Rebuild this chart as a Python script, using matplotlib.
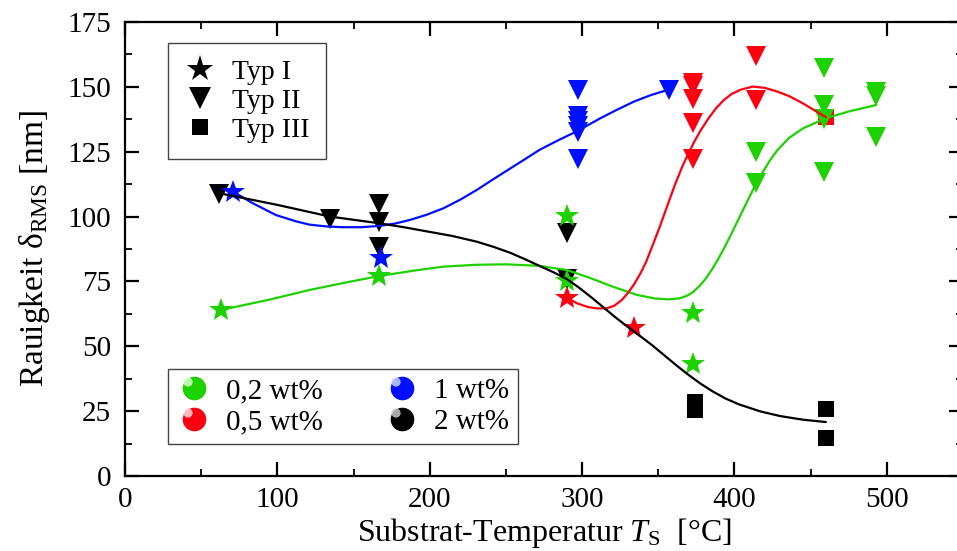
import matplotlib
matplotlib.use("Agg")
import matplotlib.pyplot as plt
from matplotlib.lines import Line2D
from matplotlib.legend_handler import HandlerTuple
from matplotlib.markers import MarkerStyle
from matplotlib.path import Path
from matplotlib.ticker import MultipleLocator

plt.rcParams.update({
    "font.family": "Liberation Serif", "font.size": 21,
    "mathtext.fontset": "custom", "mathtext.rm": "Liberation Serif",
    "mathtext.it": "Liberation Serif:italic",
    "axes.linewidth": 1.6,
    "xtick.direction": "in", "ytick.direction": "in",
    "xtick.top": True, "ytick.right": True,
    "xtick.major.size": 10, "ytick.major.size": 10,
    "xtick.minor.size": 5, "ytick.minor.size": 5,
    "xtick.major.width": 1.6, "ytick.major.width": 1.6,
    "xtick.minor.width": 1.3, "ytick.minor.width": 1.3,
})

GREEN, RED, BLUE, BLACK = "#1ed200", "#ff0010", "#0010ff", "#000000"

# Typ I (stars): substrate temperature [degC], roughness [nm]
star_green_T = [63, 167, 290, 290, 373, 373]
star_green_R = [64, 77, 100.4, 75, 62.7, 43.2]
star_red_T = [290, 334]
star_red_R = [68.7, 56.9]
star_blue_T = [71, 168]
star_blue_R = [109.6, 83.9]

# Typ II (triangles)
tri_green_T = [414, 414, 459, 459, 459, 459, 493, 493, 493]
tri_green_R = [124.9, 113, 157.3, 142.9, 137.5, 117.2, 147.9, 146.6, 130.8]
tri_red_T = [373, 373, 373, 373, 373, 414, 414]
tri_red_R = [151.6, 150.3, 145.2, 136, 122.1, 161.8, 145]
tri_blue_T = [297, 297, 297, 297, 297, 297, 357]
tri_blue_R = [148.6, 138.7, 137, 135, 132.6, 122.3, 148.6]
tri_black_T = [62, 134.5, 167, 167, 167, 290, 290]
tri_black_R = [108.8, 99, 104.9, 97.8, 88.2, 93.7, 76]

# Typ III (squares)
sq_black_T = [374, 374, 460, 460]
sq_black_R = [28.6, 25.4, 25.9, 14.6]
sq_red_T = [460]
sq_red_R = [138.3]

# guide-to-the-eye curves, traced along each concentration
fit_green_T = [63, 95, 121, 145, 167, 190, 209, 230, 250, 272, 290, 305, 320,
               336, 348, 357, 364, 369, 373, 377, 381, 385, 389, 393, 397, 401,
               405, 409, 413, 418, 423, 428, 436, 445, 460, 475, 493]
fit_green_R = [64, 68, 71.7, 74.6, 77.1, 79.2, 80.7, 81.4, 81.6, 81, 79.4, 76.4,
               73, 69.8, 68.4, 68.1, 68.5, 69.5, 71, 73.2, 76, 79.4, 83.3, 87.6,
               92.2, 97, 101.8, 106.6, 111.3, 116.6, 121.4, 125.5, 130.4, 134,
               137.9, 140.5, 143]
fit_red_T = [290, 297, 304, 310, 316, 321, 326, 330, 334, 338, 342, 346, 351,
             356, 361, 366, 370, 374, 378, 383, 388, 393, 398, 404, 412, 420,
             428, 436, 445, 460]
fit_red_R = [68.7, 66.5, 65.1, 64.6, 64.6, 65.6, 67.8, 70.5, 73.8, 77.8, 82.5,
             88.5, 96.1, 104.3, 112.4, 119.6, 124.6, 129.3, 133.4, 137.9, 141.8,
             144.9, 147.2, 148.9, 150.1, 149.6, 148.2, 146.4, 143.6, 138.3]
fit_blue_T = [71, 84, 99, 112, 121, 132, 143, 155, 167, 178, 187, 198, 209, 220,
              231, 242, 253, 263, 272, 285, 297, 312, 323, 334, 345, 356]
fit_blue_R = [109.6, 105.1, 100.6, 98.2, 96.9, 96.2, 95.9, 95.9, 96.4, 97.4, 98.7,
              100.7, 103.2, 106.5, 110.3, 114.5, 118.6, 122.3, 125.7, 129.6, 133,
              137.9, 141.2, 144.3, 146.8, 148.8]
fit_black_T = [62, 100, 134.5, 167, 183, 198, 215, 231, 242, 253, 262, 272, 281,
               290, 298, 306, 314, 322, 330, 338, 346, 354, 362, 370, 378, 386,
               394, 403, 417, 430, 445, 460]
fit_black_R = [109, 104.5, 100, 97.4, 95.9, 94.3, 92.5, 90.3, 88.3, 86, 83.7, 81,
               78.6, 75.9, 72.6, 68.9, 65, 61.1, 57.5, 54, 50.4, 46.5, 42.6, 38.9,
               35.5, 32.5, 29.9, 27.6, 24.9, 23.1, 21.7, 20.8]

fig = plt.figure(figsize=(9.57, 5.51), dpi=100)
ax = fig.add_axes([0.1306, 0.1361, 0.8757, 0.8240])

for T, R, c in [(fit_green_T, fit_green_R, GREEN), (fit_red_T, fit_red_R, RED),
                (fit_blue_T, fit_blue_R, BLUE), (fit_black_T, fit_black_R, BLACK)]:
    ax.plot(T, R, color=c, lw=1.6, zorder=3, solid_capstyle="round",
            solid_joinstyle="round")

ax.plot(sq_black_T, sq_black_R, "s", color=BLACK, ms=12, mew=0, zorder=2)
ax.plot(sq_red_T, sq_red_R, "s", color=RED, ms=12, mew=0, zorder=2)
for T, R, c in [(tri_green_T, tri_green_R, GREEN), (tri_red_T, tri_red_R, RED),
                (tri_blue_T, tri_blue_R, BLUE), (tri_black_T, tri_black_R, BLACK)]:
    ax.plot(T, R, "v", color=c, ms=15, mew=0, zorder=2)
for T, R, c in [(star_green_T, star_green_R, GREEN), (star_red_T, star_red_R, RED),
                (star_blue_T, star_blue_R, BLUE)]:
    ax.plot(T, R, "*", color=c, ms=18, mew=0, zorder=2)

ax.set_xlim(0, 550)
ax.set_ylim(0, 175)
ax.xaxis.set_major_locator(MultipleLocator(100))
ax.xaxis.set_minor_locator(MultipleLocator(50))
ax.yaxis.set_major_locator(MultipleLocator(25))
ax.yaxis.set_minor_locator(MultipleLocator(12.5))
ax.tick_params(axis="x", pad=8)
ax.tick_params(axis="y", pad=10)
ax.set_xlabel(r"Substrat-Temperatur $\mathit{T}_{\mathrm{S}}$  [°C]",
              fontsize=23, labelpad=2)
ax.set_ylabel(r"Rauigkeit $\mathrm{δ}_{\mathrm{RMS}}$ [nm]", fontsize=24,
              labelpad=11)

# marker-type legend
typ_handles = [Line2D([], [], ls="", marker="*", color=BLACK, ms=20, mew=0),
               Line2D([], [], ls="", marker="v", color=BLACK, ms=16, mew=0),
               Line2D([], [], ls="", marker="s", color=BLACK, ms=12, mew=0)]
leg1 = ax.legend(typ_handles, ["Typ I", "Typ II", "Typ III"],
                 loc="upper left", bbox_to_anchor=(168 / 957, 1 - 43 / 551),
                 bbox_transform=fig.transFigure, borderaxespad=0,
                 frameon=True, fancybox=False, edgecolor="#444444", framealpha=1,
                 borderpad=0.6, labelspacing=0.12, handlelength=1.1,
                 handletextpad=0.6, fontsize=20)
leg1.get_frame().set_linewidth(1.0)
ax.add_artist(leg1)

# concentration legend with shaded balls
hl_path = Path.circle(center=(-0.28, 0.28), radius=0.2)
def ball(c, hl):
    base = Line2D([], [], ls="", marker="o", color=c, ms=17, mew=0)
    shine = Line2D([], [], ls="", marker=MarkerStyle(hl_path), color=hl,
                   ms=16, mew=0, alpha=0.85)
    return (base, shine)

ball_handles = [ball(GREEN, "#d8ffd0"), ball(RED, "#ffd8d8"),
                ball(BLUE, "#c8d0ff"), ball(BLACK, "#c8c8c8")]
leg2 = ax.legend(ball_handles, ["0,2 wt%", "0,5 wt%", "1 wt%", "2 wt%"],
                 handler_map={tuple: HandlerTuple(ndivide=1)}, ncol=2,
                 loc="upper left", bbox_to_anchor=(168 / 957, 1 - 369 / 551),
                 bbox_transform=fig.transFigure, borderaxespad=0,
                 frameon=True, fancybox=False, edgecolor="#444444", framealpha=1,
                 borderpad=0.3, labelspacing=0.15, handlelength=1.2,
                 handletextpad=0.5, columnspacing=2.1, fontsize=21)
leg2.get_frame().set_linewidth(1.0)

fig.savefig("out.png", dpi=100)
